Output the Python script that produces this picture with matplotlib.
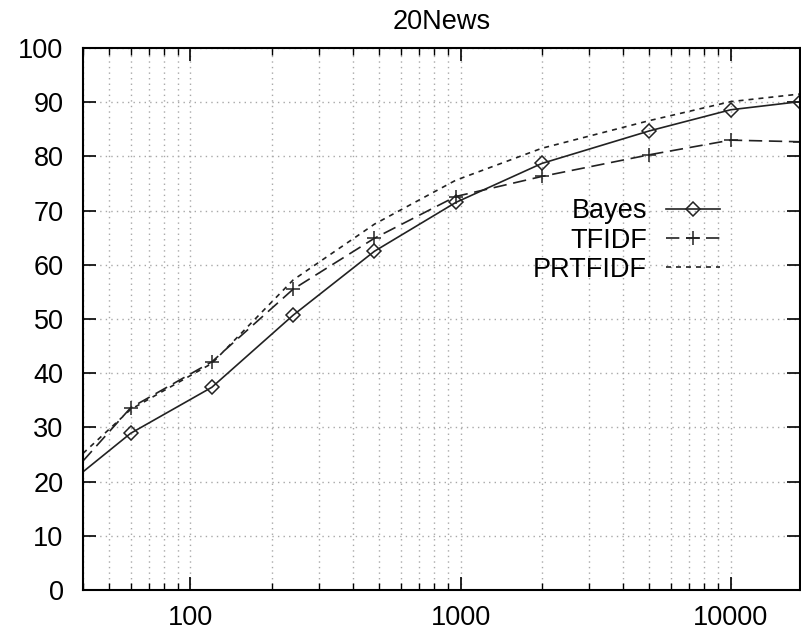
import numpy as np
import matplotlib
matplotlib.use("Agg")
import matplotlib.pyplot as plt
from matplotlib.ticker import LogLocator, FixedLocator, NullFormatter

plt.rcParams['font.family'] = ['Liberation Sans', 'DejaVu Sans']

# training set sizes (first point sits on the left edge of the plot)
sizes = [40, 60, 120, 240, 480, 960, 2000, 5000, 10000, 18000]
bayes = [21.8, 28.9, 37.4, 50.7, 62.5, 71.5, 78.7, 84.7, 88.6, 90.1]
tfidf = [23.8, 33.6, 42.1, 55.5, 64.9, 72.6, 76.3, 80.3, 83.0, 82.7]
prtfidf = [25.2, 33.3, 41.8, 57.2, 67.5, 75.6, 81.5, 86.6, 90.1, 91.5]

y_ticks = [0, 10, 20, 30, 40, 50, 60, 70, 80, 90, 100]
x_ticks = [100, 1000, 10000]


def make_plot():
    fig = plt.figure(figsize=(8.01, 6.34), dpi=100)
    ax = fig.add_axes([0.1036, 0.0694, 0.8946, 0.8549])

    lc = '#222222'
    marked = list(range(1, len(sizes)))
    ax.plot(sizes, bayes, color=lc, lw=1.2, ls='-', marker='D', ms=7.5,
            mfc='none', mec=lc, mew=1.1, markevery=marked, label='Bayes')
    ax.plot(sizes, tfidf, color=lc, lw=1.2, ls=(0, (8, 4)), marker='+', ms=10.5,
            mew=1.1, markevery=marked, label='TFIDF')
    ax.plot(sizes, prtfidf, color=lc, lw=1.2, ls=(0, (3, 3)), label='PRTFIDF')

    ax.set_xscale('log')
    ax.set_xlim(40, 18000)
    ax.set_ylim(0, 100)

    ax.xaxis.set_major_locator(FixedLocator(x_ticks))
    ax.set_xticklabels([str(t) for t in x_ticks])
    ax.xaxis.set_minor_locator(LogLocator(base=10, subs=np.arange(2, 10), numticks=20))
    ax.xaxis.set_minor_formatter(NullFormatter())
    ax.set_yticks(y_ticks)

    ax.tick_params(axis='both', which='major', direction='in', length=9.5, width=1.2,
                   top=True, right=True, labelsize=19.5, colors='black')
    ax.tick_params(axis='x', which='major', pad=11)
    ax.tick_params(axis='y', which='major', pad=14)
    ax.tick_params(axis='x', which='minor', direction='in', length=5, width=1.0,
                   top=True)

    ax.grid(True, which='both', axis='x', color='#a8a8a8', ls=(0, (1, 3)), lw=1.0)
    ax.grid(True, which='major', axis='y', color='#a8a8a8', ls=(0, (1, 3)), lw=1.0)

    for s in ax.spines.values():
        s.set_linewidth(1.5)
        s.set_color('black')

    ax.set_title('20News', fontsize=19.5, pad=13.5)

    ax.legend(loc='upper right', bbox_to_anchor=(0.889, 0.7226), frameon=False,
              markerfirst=False, fontsize=19.5, handlelength=2.0,
              handletextpad=0.7, labelspacing=0.12, borderpad=0,
              borderaxespad=0)

    fig.savefig('out.png', dpi=100)


if __name__ == '__main__':
    make_plot()
